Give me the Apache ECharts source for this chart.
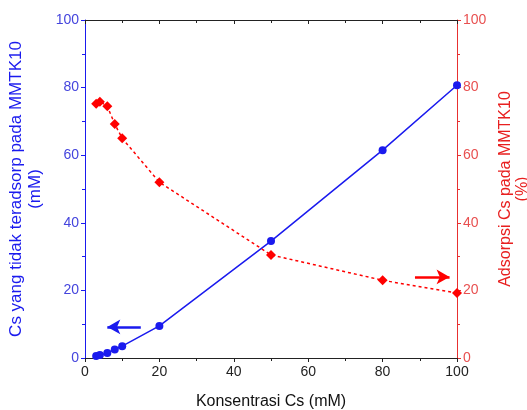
<!DOCTYPE html>
<html><head><meta charset="utf-8">
<script src="https://cdn.jsdelivr.net/npm/echarts@6/dist/echarts.min.js"></script>
<style>html,body{margin:0;padding:0;background:#fff}#c{width:527px;height:410px}</style>
</head><body><div id="c"></div>
<script>
var concentration = [3, 4, 6, 8, 10, 20, 50, 80, 100];
var unadsorbed = [0.6, 0.9, 1.5, 2.5, 3.5, 9.5, 34.6, 61.5, 80.7];
var adsorption = [75.2, 75.8, 74.5, 69.2, 65.0, 52.0, 30.5, 23.0, 19.2];
var xTicks = [0, 20, 40, 60, 80, 100];
var yTicks = [0, 20, 40, 60, 80, 100];

var blue = '#1a1aee', red = '#ff0000';
var font = 'Liberation Sans, Arial, sans-serif';
var chart = echarts.init(document.getElementById('c'), null, {renderer: 'canvas'});
function pairs(xs, ys){ return xs.map(function(x,i){return [x, ys[i]];}); }
chart.setOption({
  animation: false,
  grid: {left: 85, right: 70, top: 20, bottom: 52, containLabel: false, outerBoundsMode: 'none'},
  xAxis: [{
    type: 'value', min: 0, max: 100, interval: 20, position: 'bottom',
    name: 'Konsentrasi Cs (mM)', nameLocation: 'middle', nameGap: 36,
    nameTextStyle: {fontFamily: font, fontSize: 16, color: '#111'},
    axisLine: {onZero: false, lineStyle: {color: '#222', width: 1}},
    axisTick: {show: true, inside: false, length: 4, lineStyle: {color: '#222'}},
    minorTick: {show: true, splitNumber: 2, length: 3, lineStyle: {color: '#222'}},
    axisLabel: {fontFamily: font, fontSize: 14, color: '#222', margin: 7},
    splitLine: {show: false}
  }, {
    type: 'value', min: 0, max: 100, interval: 20, position: 'top',
    axisLine: {onZero: false, lineStyle: {color: '#222', width: 1}},
    axisTick: {show: true, inside: true, length: 4, lineStyle: {color: '#222'}},
    minorTick: {show: true, splitNumber: 2, length: 3, lineStyle: {color: '#222'}},
    axisLabel: {show: false}, splitLine: {show: false}
  }],
  yAxis: [{
    type: 'value', min: 0, max: 100, interval: 20, position: 'left',
    name: 'Cs yang tidak teradsorp pada MMTK10\n(mM)', nameLocation: 'middle', nameGap: 36, nameRotate: 90,
    nameTextStyle: {fontFamily: font, fontSize: 17, color: blue, lineHeight: 19},
    axisLine: {onZero: false, lineStyle: {color: blue, width: 1}},
    axisTick: {show: true, inside: false, length: 4, lineStyle: {color: blue}},
    minorTick: {show: true, splitNumber: 2, length: 3, lineStyle: {color: blue}},
    axisLabel: {fontFamily: font, fontSize: 14, color: '#4444dd', margin: 6},
    splitLine: {show: false}
  }, {
    type: 'value', min: 0, max: 100, interval: 20, position: 'right',
    name: 'Adsorpsi Cs pada MMTK10\n(%)', nameLocation: 'middle', nameGap: 30, nameRotate: 90,
    nameTextStyle: {fontFamily: font, fontSize: 16, color: '#e82020', lineHeight: 17},
    axisLine: {onZero: false, lineStyle: {color: '#e83030', width: 1}},
    axisTick: {show: true, inside: false, length: 4, lineStyle: {color: '#e83030'}},
    minorTick: {show: true, splitNumber: 2, length: 3, lineStyle: {color: '#e83030'}},
    axisLabel: {fontFamily: font, fontSize: 14, color: '#e85050', margin: 6},
    splitLine: {show: false}
  }],
  series: [{
    type: 'line', xAxisIndex: 0, yAxisIndex: 0,
    data: pairs(concentration, unadsorbed),
    symbol: 'circle', symbolSize: 8,
    itemStyle: {color: blue},
    lineStyle: {color: blue, width: 1.5},
    markLine: {
      silent: true, symbol: ['none', 'arrow'], symbolSize: [11, 13],
      label: {show: false},
      lineStyle: {color: blue, width: 2.5, type: 'solid'},
      data: [[{coord: [15, 9.2]}, {coord: [6, 9.2]}]]
    }
  }, {
    type: 'line', xAxisIndex: 0, yAxisIndex: 1,
    data: pairs(concentration, adsorption),
    symbol: 'diamond', symbolSize: 10,
    itemStyle: {color: red},
    lineStyle: {color: red, width: 1.5, type: [3, 3]},
    markLine: {
      silent: true, symbol: ['none', 'arrow'], symbolSize: [11, 13],
      label: {show: false},
      lineStyle: {color: red, width: 2.5, type: 'solid'},
      data: [[{coord: [88.7, 24]}, {coord: [98, 24]}]]
    }
  }]
});
</script></body></html>
